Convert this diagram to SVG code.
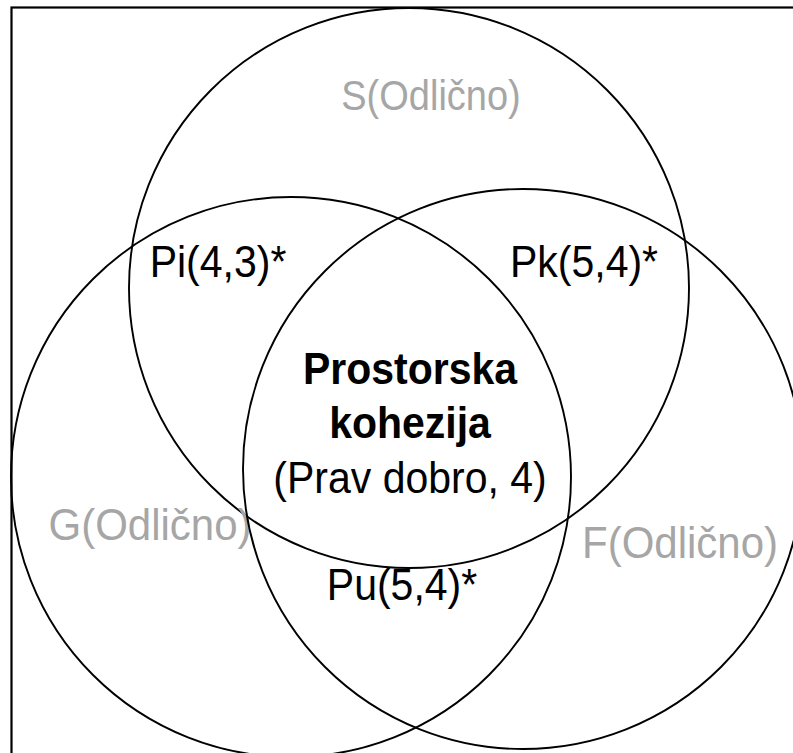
<svg xmlns="http://www.w3.org/2000/svg" width="793" height="753" viewBox="0 0 793 753">
<style>
.c{fill:none;stroke:#000;stroke-width:1.9}
.t{font-family:"Liberation Sans",Arial,sans-serif;font-size:41px;fill:#000;text-anchor:middle}
.g{fill:#a6a6a6;font-size:42px}
.s{font-size:38px}
.b{font-weight:bold}
</style>
<rect x="0" y="0" width="793" height="753" fill="#fff"/>
<rect x="11.5" y="7.5" width="800" height="770" fill="none" stroke="#000" stroke-width="2.2"/>
<g id="connectors"/>
<g id="S"><circle class="c" cx="409" cy="288" r="280"/><text class="t g s" transform="translate(431,110) scale(1,1.1)">S(Odlično)</text></g>
<g id="G"><circle class="c" cx="291" cy="477" r="280"/><text class="t g" transform="translate(150,540) scale(1,1.06)">G(Odlično)</text></g>
<g id="F"><circle class="c" cx="523" cy="469" r="280"/><text class="t g" transform="translate(680,558) scale(1,1.06)">F(Odlično)</text></g>
<g id="Pi"><text class="t" transform="translate(218,277) scale(1,1.08)">Pi(4,3)*</text></g>
<g id="Pk"><text class="t" transform="translate(584,277) scale(1,1.08)">Pk(5,4)*</text></g>
<g id="Pu"><text class="t" transform="translate(402,600) scale(1,1.08)">Pu(5,4)*</text></g>
<g id="center">
<text class="t b" transform="translate(410,384) scale(1,1.08)">Prostorska</text>
<text class="t b" transform="translate(410,438) scale(1,1.08)">kohezija</text>
<text class="t" transform="translate(410,493) scale(1,1.08)">(Prav dobro, 4)</text>
</g>
</svg>
